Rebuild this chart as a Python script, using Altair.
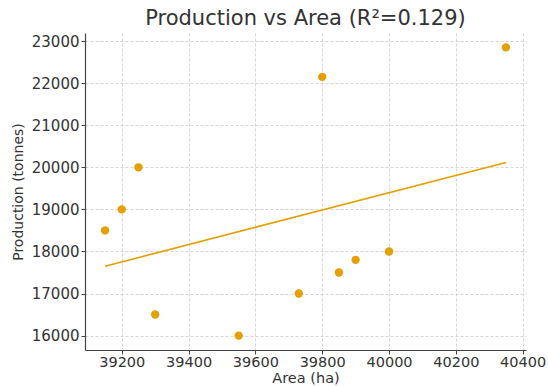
import altair as alt
import pandas as pd

area = [39150, 39200, 39250, 39300, 39550, 39730, 39800, 39850, 39900, 40000, 40350]
production = [18500, 19000, 20000, 16500, 16000, 17000, 22150, 17500, 17800, 18000, 22850]
x_ticks = [39200, 39400, 39600, 39800, 40000, 40200, 40400]
y_ticks = [16000, 17000, 18000, 19000, 20000, 21000, 22000, 23000]

df = pd.DataFrame({"Area": area, "Production": production})

ORANGE = "#E69F00"
FONT = "DejaVu Sans"

x_enc = alt.X("Area:Q", scale=alt.Scale(domain=[39090, 40410], nice=False, zero=False),
              axis=alt.Axis(title="Area (ha)", values=x_ticks, format="d",
                            labelFontSize=14.5, labelPadding=1, titleFontSize=14.5,
                            titleBaseline="middle", titleY=28))
y_enc = alt.Y("Production:Q", scale=alt.Scale(domain=[15657.5, 23192.5], nice=False, zero=False),
              axis=alt.Axis(title="Production (tonnes)", values=y_ticks, format="d",
                            titlePadding=6, titleFontSize=14))

points = alt.Chart(df).mark_circle(size=70, color=ORANGE, opacity=1).encode(x=x_enc, y=y_enc)
line = alt.Chart(df).transform_regression("Area", "Production").mark_line(
    color=ORANGE, strokeWidth=1.6).encode(x="Area:Q", y="Production:Q")

chart = (points + line).properties(
    width=441, height=317,
    title=alt.TitleParams("Production vs Area (R²=0.129)", fontSize=21, font=FONT,
                          fontWeight="normal", color="#333333", offset=4, anchor="middle"),
    autosize=alt.AutoSizeParams(type="none"),
    padding={"left": 85, "top": 33, "right": 22, "bottom": 36},
).configure_view(stroke=None).configure_axis(
    labelFont=FONT, titleFont=FONT, labelFontSize=15, titleFontSize=15,
    labelColor="#333333", titleColor="#333333", titleFontWeight="normal",
    domainColor="#444444", domainWidth=1.2, tickColor="#444444", tickSize=4, tickWidth=1,
    labelPadding=2, grid=True, gridColor="#cccccc", gridDash=[3, 2], gridWidth=0.8,
)

chart.save("out.html", embed_options={"renderer": "svg", "actions": False})
